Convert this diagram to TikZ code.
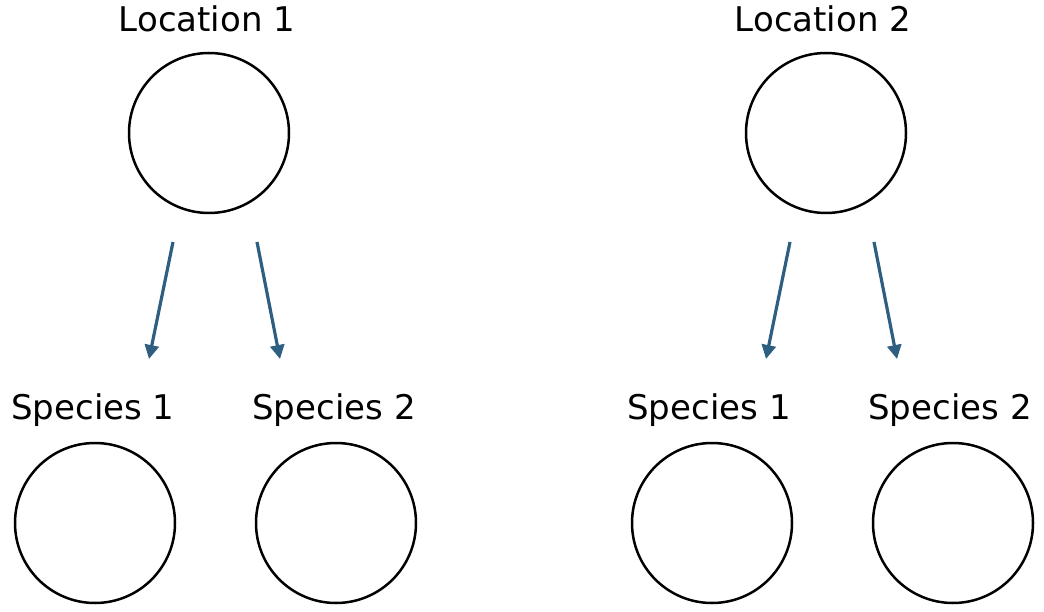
\documentclass[tikz,border=0pt]{standalone}
\usepackage{fontspec}
\setmainfont{DejaVu Sans}
\usetikzlibrary{arrows.meta}
\tikzset{
  loc/.style={draw, circle, line width=2.5pt, minimum size=160pt, inner sep=0pt},
  lbl/.style={font=\fontsize{34}{40}\selectfont, inner sep=0pt},
  edge/.style={draw, line width=3.2pt, color=arrowblue, -{Triangle[length=14pt,width=14pt]}}
}
\definecolor{arrowblue}{HTML}{2E5F80}
\begin{document}
\begin{tikzpicture}[x=1pt,y=-1pt]
\useasboundingbox (0,0) rectangle (1044,612);
\node[loc] (l1) at (209,133) {};
\node[loc] (l2) at (826,133) {};
\node[loc] (s11) at (95,523) {};
\node[loc] (s12) at (336,523) {};
\node[loc] (s21) at (712,523) {};
\node[loc] (s22) at (953,523) {};
\node[lbl] (tl1) at (207,19) {Location 1};
\node[lbl] (tl2) at (823,19) {Location 2};
\node[lbl] (ts11) at (93,410) {Species 1};
\node[lbl] (ts12) at (334,410) {Species 2};
\node[lbl] (ts21) at (709,410) {Species 1};
\node[lbl] (ts22) at (950,410) {Species 2};
\coordinate (a1) at (173,242);
\coordinate (a2) at (257,242);
\coordinate (a3) at (790,242);
\coordinate (a4) at (874,242);
\coordinate (b1) at (149,359);
\coordinate (b2) at (280,359);
\coordinate (b3) at (766,359);
\coordinate (b4) at (897,359);
\path[edge] (a1) -- (b1);
\path[edge] (a2) -- (b2);
\path[edge] (a3) -- (b3);
\path[edge] (a4) -- (b4);
\end{tikzpicture}
\end{document}
